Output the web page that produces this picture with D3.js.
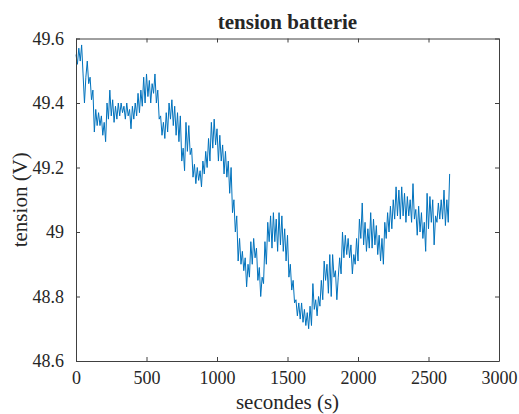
<!DOCTYPE html>
<html>
<head>
<meta charset="utf-8">
<script src="https://cdn.jsdelivr.net/npm/d3@7"></script>
<style>
  html, body { margin: 0; padding: 0; background: #fff; }
  svg { display: block; }
  text { font-family: "Liberation Serif", "Times New Roman", serif; fill: #262626; }
</style>
</head>
<body>
<svg id="chart" width="519" height="414"></svg>
<script>
// ---- data ----
const chartTitle = "tension batterie";
const xLabel = "secondes (s)";
const yLabel = "tension (V)";
const xTicks = [0, 500, 1000, 1500, 2000, 2500, 3000];
const yTicks = [48.6, 48.8, 49.0, 49.2, 49.4, 49.6];
const yTickLabels = ["48.6", "48.8", "49", "49.2", "49.4", "49.6"];
const sampleStep = 10; // seconds between readings
const tension = [
  49.55, 49.52, 49.57, 49.53, 49.58, 49.49, 49.40, 49.48, 49.53, 49.46,
  49.48, 49.41, 49.44, 49.31, 49.38, 49.33, 49.37, 49.33, 49.36, 49.30,
  49.34, 49.28, 49.40, 49.35, 49.44, 49.36, 49.41, 49.34, 49.39, 49.35,
  49.40, 49.36, 49.40, 49.37, 49.39, 49.35, 49.40, 49.36, 49.38, 49.32,
  49.39, 49.35, 49.40, 49.36, 49.43, 49.37, 49.44, 49.39, 49.48, 49.40,
  49.49, 49.42, 49.47, 49.40, 49.46, 49.43, 49.49, 49.40, 49.44, 49.35,
  49.36, 49.30, 49.34, 49.29, 49.37, 49.31, 49.40, 49.35, 49.41, 49.33,
  49.39, 49.30, 49.37, 49.28, 49.36, 49.22, 49.26, 49.19, 49.34, 49.25,
  49.33, 49.24, 49.26, 49.17, 49.21, 49.15, 49.20, 49.16, 49.19, 49.14,
  49.22, 49.18, 49.25, 49.20, 49.29, 49.22, 49.34, 49.26, 49.35, 49.27,
  49.32, 49.22, 49.30, 49.22, 49.27, 49.18, 49.25, 49.17, 49.22, 49.12,
  49.20, 49.06, 49.10, 49.00, 49.05, 48.91, 48.98, 48.90, 48.94, 48.88,
  48.92, 48.83, 48.90, 48.86, 48.97, 48.90, 48.98, 48.92, 48.95, 48.85,
  48.89, 48.80, 48.86, 48.84, 48.97, 48.90, 49.03, 48.97, 49.05, 48.95,
  49.06, 48.97, 49.04, 48.94, 49.06, 48.96, 49.05, 48.94, 49.01, 48.91,
  48.99, 48.86, 48.90, 48.82, 48.85, 48.78, 48.79, 48.74, 48.78, 48.73,
  48.78, 48.72, 48.76, 48.71, 48.75, 48.70, 48.77, 48.71, 48.84, 48.76,
  48.79, 48.74, 48.80, 48.77, 48.85, 48.79, 48.91, 48.85, 48.90, 48.81,
  48.93, 48.80, 48.93, 48.86, 48.88, 48.79, 48.86, 48.92, 48.87, 49.00,
  48.92, 48.99, 48.93, 48.98, 48.92, 48.96, 48.87, 48.93, 48.90, 48.98,
  48.91, 49.04, 48.98, 49.09, 48.96, 49.03, 48.94, 49.01, 48.95, 49.06,
  48.95, 49.04, 48.96, 49.02, 48.93, 48.99, 48.91, 48.98, 48.90, 49.03,
  48.98, 49.06, 49.00, 49.08, 49.01, 49.10, 49.04, 49.14, 49.05, 49.13,
  49.04, 49.14, 49.05, 49.12, 49.03, 49.11, 49.05, 49.10, 49.03, 49.15,
  49.04, 49.07, 48.99, 49.08, 49.00, 49.06, 48.98, 49.03, 48.94, 49.12,
  49.01, 49.11, 49.03, 49.10, 48.96, 49.05, 49.03, 49.09, 49.04, 49.10,
  49.04, 49.13, 49.02, 49.10, 49.03, 49.18
];

// ---- layout ----
const plot = { left: 76, right: 499, top: 38.5, bottom: 361 };
const svg = d3.select("#chart");
const axisColor = "#404040";

const x = d3.scaleLinear().domain([0, 3000]).range([plot.left, plot.right]);
const y = d3.scaleLinear().domain([48.6, 49.6]).range([plot.bottom, plot.top]);

const points = tension.map((v, i) => ({ t: i * sampleStep, v }));

// data line
svg.append("path")
  .datum(points)
  .attr("fill", "none")
  .attr("stroke", "#0072BD")
  .attr("stroke-width", 1)
  .attr("stroke-linejoin", "round")
  .attr("d", d3.line().x(d => x(d.t)).y(d => y(d.v)));

// axes (ticks inside, MATLAB-like)
const tickLen = 4;
function styleAxis(g) {
  g.selectAll("path.domain").attr("stroke", axisColor).attr("stroke-width", 1);
  g.selectAll(".tick line").attr("stroke", axisColor).attr("stroke-width", 1);
}

const xAxis = svg.append("g")
  .attr("transform", `translate(0,${plot.bottom})`)
  .call(d3.axisBottom(x).tickValues(xTicks).tickSizeInner(-tickLen).tickSizeOuter(0).tickPadding(10).tickFormat(d3.format("d")));
xAxis.selectAll("text").attr("font-size", 18).attr("font-family", "Liberation Serif").attr("fill", "#262626");
styleAxis(xAxis);

const xAxisTop = svg.append("g")
  .attr("transform", `translate(0,${plot.top})`)
  .call(d3.axisTop(x).tickValues(xTicks).tickSizeInner(-tickLen).tickSizeOuter(0).tickFormat(""));
styleAxis(xAxisTop);

const yAxis = svg.append("g")
  .attr("transform", `translate(${plot.left},0)`)
  .call(d3.axisLeft(y).tickValues(yTicks).tickSizeInner(-tickLen).tickSizeOuter(0).tickPadding(12)
    .tickFormat((d, i) => yTickLabels[i]));
yAxis.selectAll("text").attr("font-size", 18).attr("font-family", "Liberation Serif").attr("fill", "#262626");
styleAxis(yAxis);

const yAxisRight = svg.append("g")
  .attr("transform", `translate(${plot.right},0)`)
  .call(d3.axisRight(y).tickValues(yTicks).tickSizeInner(-tickLen).tickSizeOuter(0).tickFormat(""));
styleAxis(yAxisRight);

// title & labels
svg.append("text")
  .attr("x", (plot.left + plot.right) / 2)
  .attr("y", 28.5)
  .attr("text-anchor", "middle")
  .attr("font-size", 21)
  .attr("font-weight", "bold")
  .attr("fill", "#000")
  .text(chartTitle);

svg.append("text")
  .attr("x", (plot.left + plot.right) / 2)
  .attr("y", 409)
  .attr("text-anchor", "middle")
  .attr("font-size", 21)
  .text(xLabel);

svg.append("text")
  .attr("transform", `translate(27,${(plot.top + plot.bottom) / 2}) rotate(-90)`)
  .attr("text-anchor", "middle")
  .attr("font-size", 21)
  .text(yLabel);
</script>
</body>
</html>
